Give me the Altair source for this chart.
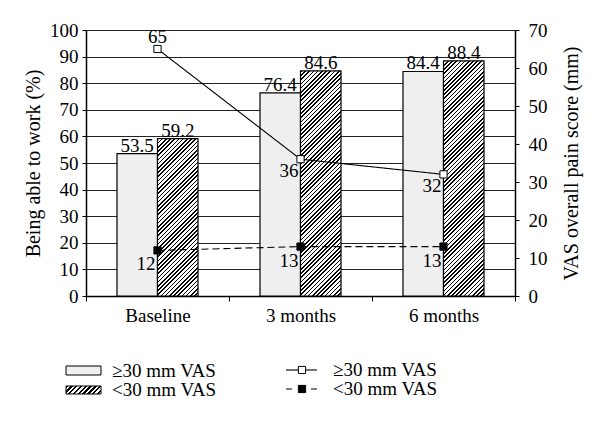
import altair as alt
import pandas as pd

# ---- data ----
times = ["Baseline", "3 months", "6 months"]
groups = ["≥30 mm VAS", "<30 mm VAS"]
work_ge30 = [53.5, 76.4, 84.4]
work_lt30 = [59.2, 84.6, 88.4]
vas_ge30 = [65, 36, 32]
vas_lt30 = [12, 13, 13]
left_ticks = [0, 10, 20, 30, 40, 50, 60, 70, 80, 90, 100]
right_ticks = [0, 10, 20, 30, 40, 50, 60, 70]

FONT = "Liberation Serif"
FS = 19
TFS = 20
W, H = 429, 266
PAD_OUT = 0.765
BAR_W = W / len(times) / (2 + 2 * PAD_OUT)

bars = pd.DataFrame({
    "time": times * 2,
    "group": [groups[0]] * 3 + [groups[1]] * 3,
    "work": work_ge30 + work_lt30,
})
bars["label"] = bars["work"].map(lambda v: f"{v:.1f}")

lines = pd.DataFrame({
    "time": times * 2,
    "group": [groups[0]] * 3 + [groups[1]] * 3,
    "vas": vas_ge30 + vas_lt30,
})
lines["label"] = lines["vas"].astype(str)


def hatch(w, h, sx=4.2, f=0.38):
    n = max(1, round((w + h) / sx))
    k = (w + h) / (w * w + h * h)
    stops = []
    for i in range(n):
        a, b, c = i / n, (i + f) / n, (i + 1) / n
        stops += [
            {"offset": a, "color": "black"},
            {"offset": b, "color": "black"},
            {"offset": b, "color": "white"},
            {"offset": c, "color": "white"},
        ]
    return {"gradient": "linear", "x1": 0, "y1": 0, "x2": w * k, "y2": h * k, "stops": stops}


x_axis = alt.Axis(
    title=None, tickBand="extent", labelAngle=0, labelFont=FONT, labelFontSize=FS,
    labelColor="black", tickColor="black", tickSize=5, domainColor="black",
    domainWidth=1.5, labelPadding=5, grid=False,
)
x_enc = alt.X("time:N", sort=times, scale=alt.Scale(paddingInner=0, paddingOuter=0), axis=x_axis)
xoff_enc = alt.XOffset("group:N", sort=groups,
                       scale=alt.Scale(domain=groups, paddingInner=0, paddingOuter=PAD_OUT))

yl_axis = alt.Axis(
    orient="left", values=left_ticks, grid=True, gridColor="#222", gridWidth=1,
    domainColor="black", domainWidth=1.5, tickColor="black", tickSize=4,
    labelFont=FONT, labelFontSize=FS, labelColor="black", labelPadding=4,
    title="Being able to work (%)", titleFont=FONT, titleFontSize=TFS,
    titleFontWeight="normal", titleColor="black", titlePadding=6,
)
yl_enc = alt.Y("work:Q", scale=alt.Scale(domain=[0, 100], nice=False), axis=yl_axis)

yr_axis = alt.Axis(
    orient="right", values=right_ticks, grid=False,
    domainColor="black", domainWidth=1.5, tickColor="black", tickSize=4,
    labelFont=FONT, labelFontSize=FS, labelColor="black", labelPadding=9,
    title="VAS overall pain score (mm)", titleFont=FONT, titleFontSize=TFS,
    titleFontWeight="normal", titleColor="black", titlePadding=14, titleAngle=270,
    titleBaseline="top",
)
yr_enc = alt.Y("vas:Q", scale=alt.Scale(domain=[0, 70], nice=False), axis=yr_axis)

bar_base = alt.Chart(bars)
gray = bar_base.transform_filter(alt.datum.group == groups[0]).mark_bar(
    fill="#efefef", stroke="black", strokeWidth=1.2
).encode(x=x_enc, xOffset=xoff_enc, y=yl_enc)

hatched_layers = []
for t, v in zip(times, work_lt30):
    hatched_layers.append(
        bar_base.transform_filter(
            (alt.datum.group == groups[1]) & (alt.datum.time == t)
        ).mark_bar(fill=hatch(BAR_W, v / 100 * H), stroke="black", strokeWidth=1.2)
        .encode(x=x_enc, xOffset=xoff_enc, y=yl_enc)
    )

bar_labels = bar_base.mark_text(
    baseline="alphabetic", dy=-2, font=FONT, fontSize=FS, color="black"
).encode(x=x_enc, xOffset=xoff_enc, y=yl_enc, text="label:N")

bar_layer = alt.layer(gray, *hatched_layers, bar_labels)

line_base = alt.Chart(lines)
line = line_base.mark_line(color="black", strokeWidth=1.1).encode(
    x=x_enc, y=yr_enc,
    strokeDash=alt.StrokeDash("group:N", scale=alt.Scale(domain=groups, range=[[1, 0], [7, 4]]), legend=None),
    detail="group:N",
)
pts = line_base.mark_point(shape="square", filled=True, stroke="black", strokeWidth=1, size=52, opacity=1).encode(
    x=x_enc, y=yr_enc,
    fill=alt.Fill("group:N", scale=alt.Scale(domain=groups, range=["white", "black"]), legend=None),
)
lab_a = line_base.transform_filter(
    (alt.datum.group == groups[0]) & (alt.datum.time == times[0])
).mark_text(align="center", baseline="alphabetic", dy=-6, font=FONT, fontSize=FS, color="black").encode(
    x=x_enc, y=yr_enc, text="label:N")
lab_b = line_base.transform_filter(
    (alt.datum.group == groups[0]) & (alt.datum.time != times[0])
).mark_text(align="right", baseline="alphabetic", dx=-2, dy=18, font=FONT, fontSize=FS, color="black").encode(
    x=x_enc, y=yr_enc, text="label:N")
lab_c = line_base.transform_filter(alt.datum.group == groups[1]).mark_text(
    align="right", baseline="alphabetic", dx=-2, dy=20, font=FONT, fontSize=FS, color="black").encode(
    x=x_enc, y=yr_enc, text="label:N")

line_layer = alt.layer(line, pts, lab_a, lab_b, lab_c)

# ---- hand-drawn legend ----
one = alt.Data(values=[{"k": 0}])
R1, R2 = 341, 360
leg = [
    alt.Chart(one).mark_rect(fill="#efefef", stroke="black", strokeWidth=1).encode(
        x=alt.value(-20), x2=alt.value(15), y=alt.value(R1 - 5), y2=alt.value(R1 + 4)),
    alt.Chart(one).mark_rect(fill=hatch(35, 8, sx=4.6, f=0.5), stroke="black", strokeWidth=1).encode(
        x=alt.value(-20), x2=alt.value(15), y=alt.value(R2 - 4), y2=alt.value(R2 + 4)),
    alt.Chart(one).mark_text(align="left", baseline="middle", font=FONT, fontSize=FS, color="black").encode(
        x=alt.value(26), y=alt.value(R1), text=alt.value(groups[0])),
    alt.Chart(one).mark_text(align="left", baseline="middle", font=FONT, fontSize=FS, color="black").encode(
        x=alt.value(26), y=alt.value(R2), text=alt.value(groups[1])),
    alt.Chart(one).mark_rule(color="black", strokeWidth=1.1).encode(
        x=alt.value(200), x2=alt.value(231), y=alt.value(R1 - 1)),
    alt.Chart(one).mark_rule(color="black", strokeWidth=1.1, strokeDash=[6, 19]).encode(
        x=alt.value(200), x2=alt.value(231), y=alt.value(R2 - 1)),
    alt.Chart(one).mark_point(shape="square", filled=True, fill="white", stroke="black", strokeWidth=1,
                              size=52, opacity=1).encode(x=alt.value(216), y=alt.value(R1 - 1)),
    alt.Chart(one).mark_point(shape="square", filled=True, fill="black", stroke="black", strokeWidth=1,
                              size=52, opacity=1).encode(x=alt.value(216), y=alt.value(R2 - 1)),
    alt.Chart(one).mark_text(align="left", baseline="middle", font=FONT, fontSize=FS, color="black").encode(
        x=alt.value(247), y=alt.value(R1 - 1), text=alt.value(groups[0])),
    alt.Chart(one).mark_text(align="left", baseline="middle", font=FONT, fontSize=FS, color="black").encode(
        x=alt.value(247), y=alt.value(R2 - 1), text=alt.value(groups[1])),
]

chart = alt.layer(bar_layer, line_layer, *leg).resolve_scale(y="independent").properties(
    width=W, height=H, padding={"left": 15, "top": 13, "right": 5, "bottom": 5}
).configure_view(stroke=None).configure(background="white", font=FONT)

chart.save("out.html", embed_options={"renderer": "svg", "actions": False})
